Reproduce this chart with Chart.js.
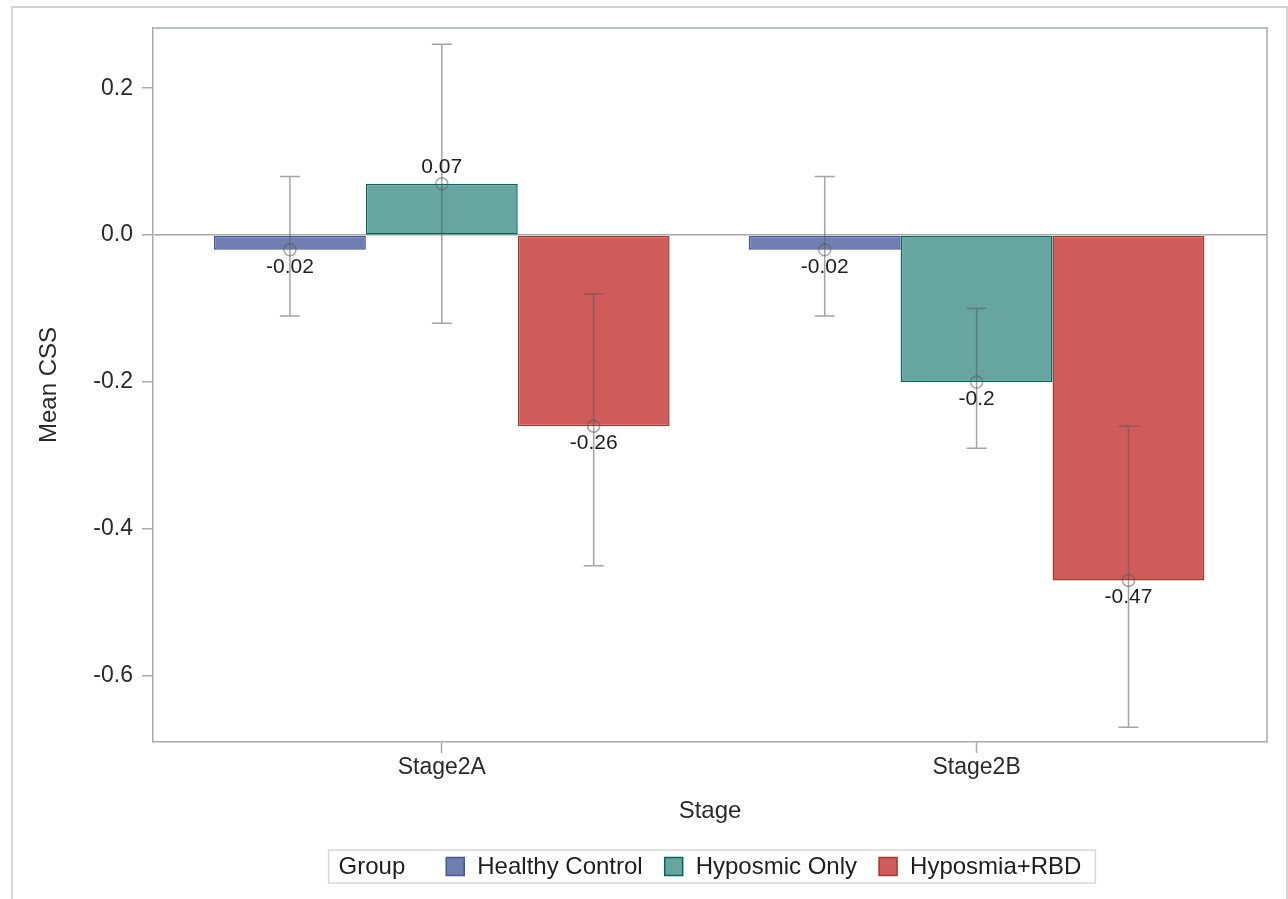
<!DOCTYPE html>
<html>
<head>
<meta charset="utf-8">
<script src="https://cdn.jsdelivr.net/npm/chart.js@4.4.0/dist/chart.umd.min.js"></script>
<style>
  body { margin: 0; background: #fff; }
  canvas { display: block; }
</style>
</head>
<body>
<canvas id="myChart" width="1288" height="899"></canvas>
<script>
// data
const stages = ['Stage2A', 'Stage2B'];
const groups = ['Healthy Control', 'Hyposmic Only', 'Hyposmia+RBD'];

const healthyMean = [-0.02, -0.02];
const healthyLow  = [-0.11, -0.11];
const healthyHigh = [0.08, 0.08];

const hyposmicMean = [0.07, -0.2];
const hyposmicLow  = [-0.12, -0.29];
const hyposmicHigh = [0.26, -0.10];

const rbdMean = [-0.26, -0.47];
const rbdLow  = [-0.45, -0.67];
const rbdHigh = [-0.08, -0.26];

const yTicks = [-0.6, -0.4, -0.2, 0.0, 0.2];

const fills   = ['#6F7EB3', '#66A5A0', '#D05B5B'];
const borders = ['#445694', '#01665E', '#A23A2E'];
const axisGray = '#a6aaaf';
const fontFam = '"Liberation Sans", Arial, sans-serif';

const means = [healthyMean, hyposmicMean, rbdMean];
const lows  = [healthyLow, hyposmicLow, rbdLow];
const highs = [healthyHigh, hyposmicHigh, rbdHigh];

// outer frame + white page
const pageFrame = {
  id: 'pageFrame',
  beforeDraw(chart) {
    const c = chart.ctx;
    c.save();
    c.fillStyle = '#fff';
    c.fillRect(0, 0, chart.width, chart.height);
    c.strokeStyle = '#d4d4d4';
    c.lineWidth = 2;
    c.strokeRect(12, 7, 1275, 920);
    c.restore();
  },
  afterDraw(chart) {
    // top and right sides of the plot box
    const a = chart.chartArea, c = chart.ctx;
    c.save();
    c.strokeStyle = axisGray;
    c.lineWidth = 1.5;
    c.beginPath();
    c.moveTo(a.left, a.top);
    c.lineTo(a.right, a.top);
    c.lineTo(a.right, a.bottom);
    c.stroke();
    c.restore();
  }
};

// error bars, mean circles and value labels
const errorBars = {
  id: 'errorBars',
  afterDatasetsDraw(chart) {
    const c = chart.ctx, ys = chart.scales.y;
    c.save();
    chart.data.datasets.forEach((ds, d) => {
      const meta = chart.getDatasetMeta(d);
      meta.data.forEach((bar, i) => {
        const x = bar.x;
        const yHi = ys.getPixelForValue(highs[d][i]);
        const yLo = ys.getPixelForValue(lows[d][i]);
        const yM = ys.getPixelForValue(means[d][i]);
        c.strokeStyle = 'rgba(90,90,90,0.55)';
        c.lineWidth = 1.5;
        c.beginPath();
        c.moveTo(x, yHi); c.lineTo(x, yLo);
        c.moveTo(x - 10, yHi); c.lineTo(x + 10, yHi);
        c.moveTo(x - 10, yLo); c.lineTo(x + 10, yLo);
        c.stroke();
        c.beginPath();
        c.arc(x, yM, 6, 0, Math.PI * 2);
        c.stroke();
        c.fillStyle = '#1e1e1e';
        c.font = '21px ' + fontFam;
        c.textAlign = 'center';
        c.textBaseline = 'middle';
        const v = means[d][i];
        c.fillText(String(v), x, v < 0 ? yM + 17 : yM - 17);
      });
    });
    c.restore();
  }
};

// SAS style inline legend box
const groupLegend = {
  id: 'groupLegend',
  afterDraw(chart) {
    const c = chart.ctx, a = chart.chartArea;
    c.save();
    c.font = '24px ' + fontFam;
    const sw = 18, gapSw = 13, gapItem = 22, pad = 10;
    let total = pad + c.measureText('Group').width + 41;
    groups.forEach((g, k) => {
      total += sw + gapSw + c.measureText(g).width + (k < groups.length - 1 ? gapItem : 0);
    });
    total += 14;
    const left = (a.left + a.right) / 2 - total / 2 + 2;
    const top = 850, h = 33, mid = top + h / 2;
    c.strokeStyle = '#d6d6d6';
    c.lineWidth = 1.5;
    c.strokeRect(left, top, total, h);
    c.fillStyle = '#1e1e1e';
    c.textBaseline = 'middle';
    c.textAlign = 'left';
    let x = left + pad;
    c.fillText('Group', x, mid + 1);
    x += c.measureText('Group').width + 41;
    groups.forEach((g, k) => {
      c.fillStyle = fills[k];
      c.fillRect(x, mid - sw / 2, sw, sw);
      c.strokeStyle = borders[k];
      c.lineWidth = 1.5;
      c.strokeRect(x, mid - sw / 2, sw, sw);
      x += sw + gapSw;
      c.fillStyle = '#1e1e1e';
      c.fillText(g, x, mid + 1);
      x += c.measureText(g).width + gapItem;
    });
    c.restore();
  }
};

const ctx = document.getElementById('myChart').getContext('2d');
const myChart = new Chart(ctx, {
  type: 'bar',
  data: {
    datasets: groups.map((g, d) => ({
      label: g,
      data: stages.map((s, i) => ({ x: i, y: means[d][i] })),
      backgroundColor: fills[d],
      borderColor: borders[d],
      borderWidth: 1.5,
      borderSkipped: false,
      categoryPercentage: 0.852,
      barPercentage: 1.0
    }))
  },
  options: {
    responsive: false,
    animation: false,
    layout: { padding: { left: 12, top: 28, right: 21, bottom: 67 } },
    plugins: { legend: { display: false }, tooltip: { enabled: false } },
    scales: {
      x: {
        type: 'linear',
        offset: false,
        min: -0.54,
        max: 1.543,
        afterBuildTicks: axis => { axis.ticks = stages.map((s, i) => ({ value: i })); },
        afterFit: axis => { axis.height = 90; },
        ticks: {
          callback: v => stages[v],
          font: { family: fontFam, size: 23 },
          color: '#2a2a2a',
          padding: 1,
          maxRotation: 0,
          autoSkip: false
        },
        grid: { offset: false, drawOnChartArea: false, drawTicks: true, tickLength: 11, tickColor: axisGray, tickWidth: 1.5 },
        border: { color: axisGray, width: 1.5 },
        title: { display: true, text: 'Stage', font: { family: fontFam, size: 24 }, color: '#2a2a2a', padding: { top: 0, bottom: 6 } }
      },
      y: {
        min: -0.69,
        max: 0.282,
        afterBuildTicks: axis => { axis.ticks = yTicks.map(v => ({ value: v })); },
        afterFit: axis => { axis.width = 141; },
        ticks: {
          callback: v => v.toFixed(1),
          font: { family: fontFam, size: 23 },
          color: '#2a2a2a',
          padding: 9
        },
        grid: {
          drawOnChartArea: true,
          drawTicks: true,
          tickLength: 11,
          tickColor: axisGray,
          tickWidth: 1.5,
          lineWidth: 1.5,
          color: c => (c.tick && c.tick.value === 0 ? '#a8a8a8' : 'rgba(0,0,0,0)')
        },
        border: { color: axisGray, width: 1.5 },
        title: { display: true, text: 'Mean CSS', font: { family: fontFam, size: 24 }, color: '#2a2a2a', padding: { top: 23, bottom: 0 } }
      }
    }
  },
  plugins: [pageFrame, errorBars, groupLegend]
});
</script>
</body>
</html>
